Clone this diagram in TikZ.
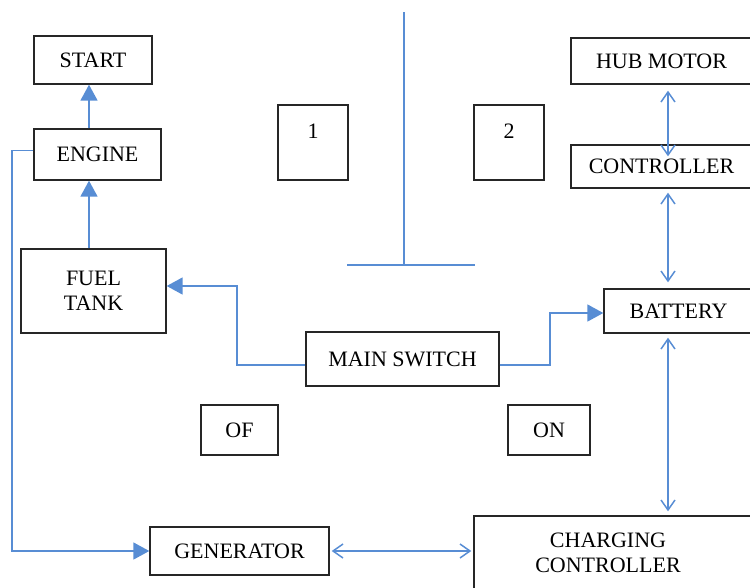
\documentclass[tikz,border=0pt]{standalone}
\usepackage{fontspec}
\setmainfont{Liberation Serif}
\usetikzlibrary{arrows.meta,calc}
\definecolor{lineblue}{RGB}{88,141,212}
\tikzset{
  box/.style={draw=black!85, line width=1.4pt, fill=white, inner sep=0pt, align=center, font=\fontsize{22}{25}\selectfont},
  lbl/.style={inner sep=0pt, align=center, font=\fontsize{22}{25}\selectfont},
  flow/.style={draw=lineblue, line width=1.8pt, -{Triangle[width=17pt,length=16pt]}},
  dbl/.style={draw=lineblue, line width=1.5pt, {Straight Barb[length=10pt,width=14pt]}-{Straight Barb[length=10pt,width=14pt]}},
  plain/.style={draw=lineblue, line width=1.5pt}
}
\begin{document}
\begin{tikzpicture}[x=1pt,y=-1pt]
\useasboundingbox (0,0) rectangle (750,587);
% left column
\node[box, minimum width=118, minimum height=48] (start) at (93,60) {START};
\node[box, minimum width=127, minimum height=51] (engine) at (97.5,154.5) {ENGINE};
\node[box, minimum width=145, minimum height=84] (fuel) at (93.5,291) {FUEL\\TANK};
% number boxes
\node[box, minimum width=70, minimum height=75] (b1) at (313,142.5) {};
\node[lbl] (t1) at (313,131) {1};
\node[box, minimum width=70, minimum height=75] (b2) at (509,142.5) {};
\node[lbl] (t2) at (509,131) {2};
% right column
\node[box, minimum width=181, minimum height=46] (hub) at (661.5,61) {HUB MOTOR};
\node[box, minimum width=181, minimum height=43] (ctrl) at (661.5,166.5) {CONTROLLER};
\node[box, minimum width=149, minimum height=44] (bat) at (678.5,311) {BATTERY};
% middle
\node[box, minimum width=193, minimum height=54] (ms) at (402.5,359) {MAIN SWITCH};
\node[box, minimum width=77, minimum height=50] (of) at (239.5,430) {OF};
\node[box, minimum width=82, minimum height=50] (on) at (549,430) {ON};
% bottom
\node[box, minimum width=280, minimum height=76] (cc) at (614,554) {};
\node[lbl] (cct) at (608,553) {CHARGING\\CONTROLLER};
\node[box, minimum width=179, minimum height=48] (gen) at (239.5,551) {GENERATOR};
% T-shaped switch symbol
\coordinate (vt) at (404,12);
\coordinate (vb) at (404,265);
\coordinate (hl) at (347,265);
\coordinate (hr) at (475,265);
\draw[plain] (vt) -- (vb);
\draw[plain] (hl) -- (hr);
% connectors
\draw[flow] (engine.north -| start.south) ++(-4,0) coordinate (e1) -- (e1 |- start.south);
\draw[flow] (fuel.north -| engine.south) ++(-8.5,0) coordinate (f1) -- (f1 |- engine.south);
\coordinate (e2) at ($(engine.west)+(0,-4)$);
\draw[flow] (e2) -- (e2 -| 12,0) -- (12,551) -- (gen.west);
\coordinate (m1) at ($(ms.west)+(0,6)$);
\draw[flow] (m1) -- (237,365) -- (237,286) -- (fuel.east |- 0,286);
\coordinate (m2) at ($(ms.east)+(0,6)$);
\draw[flow] (m2) -- (550,365) -- (550,313) -- (bat.west |- 0,313);
\draw[dbl] ($(hub.south)+(6.5,6)$) -- ($(ctrl.north)+(6.5,12)$);
\draw[dbl] ($(ctrl.south)+(6.5,4)$) -- ($(bat.north)+(-10.5,-6)$);
\draw[dbl] ($(bat.south)+(-10.5,4)$) -- ($(cc.north)+(54,-4)$);
\draw[dbl] ($(gen.east)+(2,0)$) -- ($(cc.west)+(-2,-3)$);
\end{tikzpicture}
\end{document}
